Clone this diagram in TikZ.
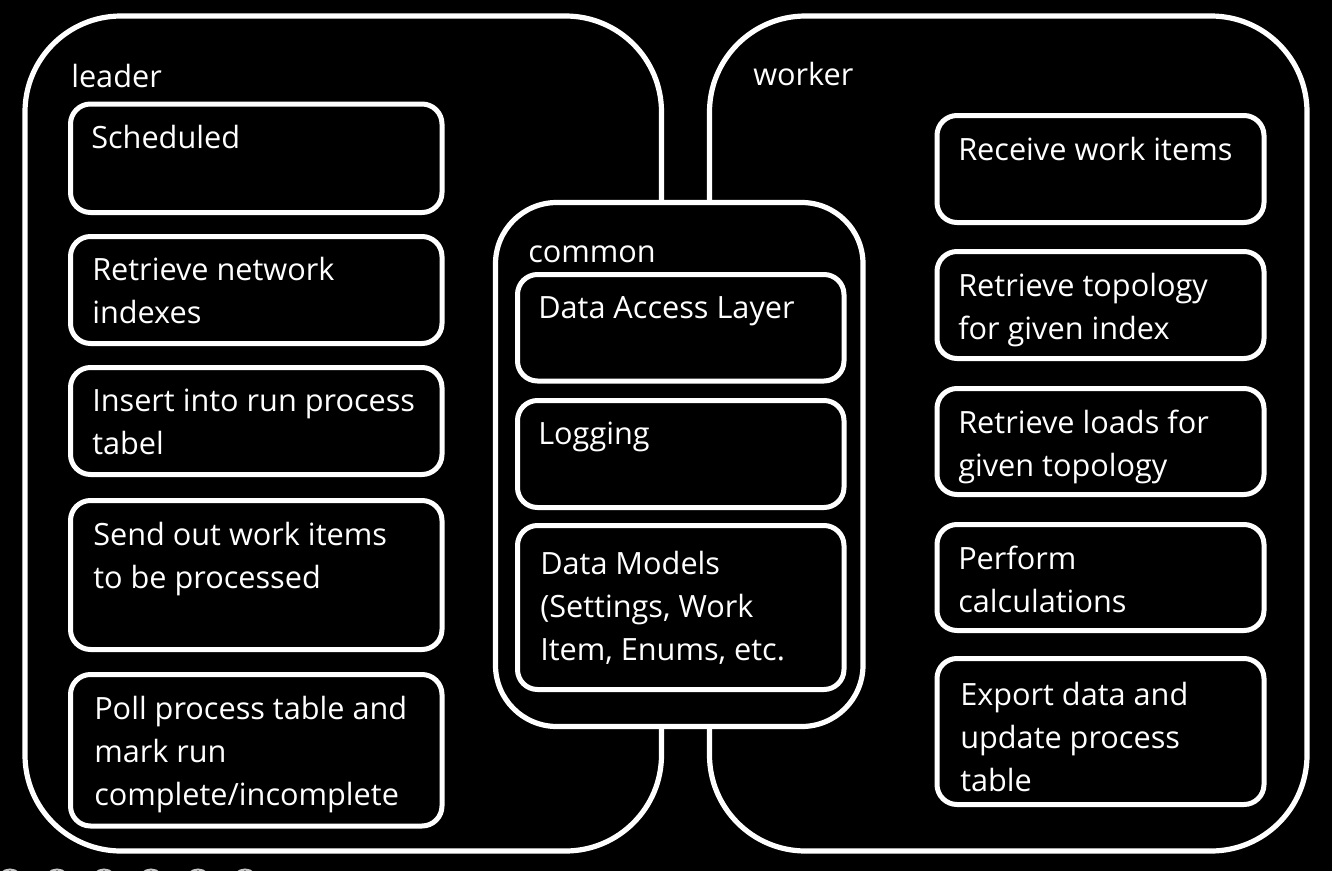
\documentclass[tikz,border=0pt]{standalone}
\usepackage{fontspec}
\setmainfont{Open Sans}

\newcommand{\steplines}[1]{\begin{tabular}[t]{@{}l@{}}#1\end{tabular}}

\begin{document}
\begin{tikzpicture}[x=0.75pt,y=0.75pt,yscale=-1,xscale=1,
	outerbox/.style={draw=white, line width=3.9pt, rounded corners=72pt},
	stepbox/.style={draw=white, line width=3.75pt, rounded corners=15pt},
	txt/.style={text=white, anchor=base west, inner sep=0pt,
		font=\fontsize{23}{32.4}\selectfont}]
	% background
	\fill[black] (0,0) rectangle (1332,871);
	\useasboundingbox (0,0) rectangle (1332,871);
	
	%Slide dots
	\foreach \dx in {10,57,104,151,198,245}
	\draw[gray!45, line width=1.5pt] (\dx,882) circle (12.5);
	
	%Shape: leader and worker
	\draw[outerbox] (25,16) rectangle (661.5,851);
	\draw[outerbox] (709.5,16) rectangle (1307,851);
	
	%Shape: common
	\draw[outerbox, rounded corners=46pt, fill=black] (495.5,202.5) rectangle (863,726.5);
	
	%Shape: leader steps
	\draw[stepbox] (70.5,104) rectangle (442,212.5);
	\draw[stepbox] (70.5,236.5) rectangle (442,343.5);
	\draw[stepbox] (70.5,367.5) rectangle (442,474.5);
	\draw[stepbox] (70.5,500.5) rectangle (442,649.5);
	\draw[stepbox] (70.5,674.5) rectangle (442,826);
	
	%Shape: common parts
	\draw[stepbox] (517.5,274.5) rectangle (844,381);
	\draw[stepbox] (517.5,400.5) rectangle (844,507.5);
	\draw[stepbox] (517.5,525.5) rectangle (844,689.5);
	
	%Shape: worker steps
	\draw[stepbox] (937,115.5) rectangle (1264,222.5);
	\draw[stepbox] (937,251.5) rectangle (1264,358.5);
	\draw[stepbox] (937,388.5) rectangle (1264,494.5);
	\draw[stepbox] (937,524.5) rectangle (1264,630.5);
	\draw[stepbox] (937,658.5) rectangle (1264,804.5);
	
	% Text Node
	\node[txt] (leader) at (71,87) {leader};
	% Text Node
	\node[txt] (worker) at (753,85) {worker};
	% Text Node
	\node[txt] (common) at (528,262) {common};
	
	% Text Node
	\node[txt] (sched) at (91,148) {Scheduled};
	% Text Node
	\node[txt] (indexes) at (92,280) {\steplines{Retrieve network\\indexes}};
	% Text Node
	\node[txt] (insert) at (92,411) {\steplines{Insert into run process\\tabel}};
	% Text Node
	\node[txt] (send) at (93,545) {\steplines{Send out work items\\to be processed}};
	% Text Node
	\node[txt] (poll) at (94,719) {\steplines{Poll process table and\\mark run\\complete/incomplete}};
	
	% Text Node
	\node[txt] (dal) at (538,318) {Data Access Layer};
	% Text Node
	\node[txt] (logging) at (538,444) {Logging};
	% Text Node
	\node[txt] (models) at (540,574) {\steplines{Data Models\\(Settings, Work\\Item, Enums, etc.}};
	
	% Text Node
	\node[txt] (receive) at (958,160) {Receive work items};
	% Text Node
	\node[txt] (topology) at (958,296) {\steplines{Retrieve topology\\for given index}};
	% Text Node
	\node[txt] (loads) at (958,433) {\steplines{Retrieve loads for\\given topology}};
	% Text Node
	\node[txt] (perform) at (958,569) {\steplines{Perform\\calculations}};
	% Text Node
	\node[txt] (export) at (960,705) {\steplines{Export data and\\update process\\table}};
\end{tikzpicture}
\end{document}
